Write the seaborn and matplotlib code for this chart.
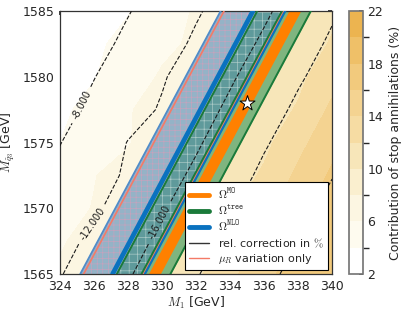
import numpy as np
import pandas as pd
import seaborn as sns
import matplotlib.pyplot as plt
from matplotlib.colors import ListedColormap, BoundaryNorm
from matplotlib.lines import Line2D

# scan grid
m1_grid = [324, 326, 328, 330, 332, 334, 336, 338, 340]
msq_grid = [1565, 1567.5, 1570, 1572.5, 1575, 1577.5, 1580, 1582.5, 1585]

# contribution of stop annihilations in %, rows follow msq_grid
stop_frac = [
    [6.4, 7.8, 9.0, 10.3, 11.6, 13.5, 15.5, 16.9, 18.0],
    [5.7, 7.1, 8.4, 9.6, 10.9, 12.4, 14.5, 16.3, 17.5],
    [5.1, 6.1, 7.8, 9.0, 10.2, 11.6, 13.4, 15.5, 16.9],
    [4.5, 5.9, 7.0, 8.4, 9.6, 10.9, 12.3, 14.4, 16.3],
    [4.0, 5.1, 5.8, 7.7, 8.9, 10.2, 11.5, 13.4, 15.4],
    [3.7, 4.5, 5.8, 7.1, 8.3, 9.5, 10.9, 12.2, 14.4],
    [3.5, 3.9, 5.1, 6.2, 7.7, 8.9, 10.2, 11.5, 13.3],
    [3.2, 3.7, 4.5, 5.6, 6.3, 8.3, 9.5, 10.8, 12.2],
    [3.0, 3.5, 3.9, 5.0, 6.2, 7.7, 8.9, 10.2, 11.5],
]

# relative NLO correction in %, rows follow msq_grid
rel_corr = [
    [-11.8, -13.8, -15.7, -17.7, -19.8, -21.5, -23.2, -24.9, -26.6],
    [-10.8, -12.8, -14.7, -16.7, -18.7, -20.7, -22.3, -24.0, -25.7],
    [-9.9, -11.4, -13.7, -15.7, -17.7, -19.7, -21.5, -23.1, -24.8],
    [-8.9, -10.8, -12.4, -14.7, -16.6, -18.7, -20.6, -22.3, -23.9],
    [-7.9, -9.8, -12.1, -13.7, -15.6, -17.6, -19.7, -21.4, -23.1],
    [-6.9, -8.8, -10.7, -12.3, -14.6, -16.6, -18.6, -20.6, -22.2],
    [-5.9, -7.9, -9.8, -11.7, -13.6, -15.6, -17.6, -19.6, -21.4],
    [-4.8, -6.8, -8.8, -10.4, -12.6, -14.6, -16.5, -18.6, -20.5],
    [-4.3, -5.8, -7.8, -9.7, -11.6, -13.6, -15.5, -17.5, -19.6],
]

stop_levels = [2, 4, 6, 8, 10, 12, 14, 16, 18, 20, 22]
corr_levels_labelled = [-16, -12, -8]
corr_levels_plain = [-24, -20]

# band edges in M1 at the bottom and top of the plot
msq_ends = [1565, 1585]
nlo_lo = [325.2, 333.45]
mur_lo = [325.4, 333.65]
nlo_mid = [327.1, 335.35]
tree_lo = [327.35, 335.6]
tree_mid = [328.8, 337.05]
mur_hi = [328.9, 337.15]
nlo_hi = [329.0, 337.25]
mo_lo = [329.2, 337.45]
mo_hi = [329.9, 338.15]
tree_hi = [330.5, 338.75]

# benchmark point
bench_m1 = [335.0]
bench_msq = [1578.0]

sns.set_theme(style="white")
plt.rcParams["font.family"] = ["DejaVu Sans"]
plt.rcParams["mathtext.fontset"] = "cm"
plt.rcParams["hatch.linewidth"] = 0.5

c_orange = "#ff8000"
c_green = "#1a7a3a"
c_blue = "#0a72bf"
c_red = "#f47a66"

band_colors = ["#ffffff", "#fefbef", "#fcf6e2", "#faefcf", "#f7e6b9",
               "#f6dca3", "#f4d391", "#f2ca7d", "#efc068", "#ecb450"]
cmap = ListedColormap(band_colors)
norm = BoundaryNorm(stop_levels, cmap.N)

fig = plt.figure(figsize=(4.07, 3.16), dpi=100)
ax = fig.add_axes([0.147, 0.133, 0.669, 0.832])

X, Y = np.meshgrid(m1_grid, msq_grid)
cf = ax.contourf(X, Y, np.array(stop_frac), levels=stop_levels, cmap=cmap, norm=norm)

# bands
ax.fill_betweenx(msq_ends, nlo_lo, nlo_hi, facecolor="#94b3c7", edgecolor="#c4a3bd",
                 hatch="+++", linewidth=0, zorder=2)
ax.fill_betweenx(msq_ends, tree_lo, tree_mid, facecolor="#5f9a9b", edgecolor="#a9c9c6",
                 hatch="++", linewidth=0, zorder=2.1)
ax.fill_betweenx(msq_ends, tree_mid, tree_hi, facecolor="#7fb57f", linewidth=0, zorder=2.2)
ax.fill_betweenx(msq_ends, mo_lo, mo_hi, facecolor=c_orange, linewidth=0, zorder=2.3)

edges = pd.DataFrame({
    "m1": nlo_lo + nlo_hi + mur_lo + mur_hi + tree_lo + tree_mid + tree_hi + nlo_mid,
    "msq": msq_ends * 8,
    "line": sum([[k, k] for k in ["nlo_lo", "nlo_hi", "mur_lo", "mur_hi",
                                  "tree_lo", "tree_mid", "tree_hi", "nlo_mid"]], []),
})
styles = {
    "nlo_lo": ("#4f8cc9", 1.3), "nlo_hi": (c_blue, 1.6),
    "mur_lo": (c_red, 1.2), "mur_hi": (c_red, 1.2),
    "tree_lo": (c_green, 1.4), "tree_mid": (c_green, 1.4), "tree_hi": (c_green, 1.4),
    "nlo_mid": (c_blue, 3.4),
}
for name, grp in edges.groupby("line"):
    col, lw = styles[name]
    sns.lineplot(data=grp, x="m1", y="msq", color=col, linewidth=lw, sort=False,
                 estimator=None, ax=ax, zorder=3, legend=False)

Z = np.array(rel_corr)
ax.contour(X, Y, Z, levels=corr_levels_plain, colors="k",
           linestyles="--", linewidths=0.8, zorder=4)
cs = ax.contour(X, Y, Z, levels=corr_levels_labelled, colors="k",
                linestyles="--", linewidths=0.8, zorder=4)
ax.clabel(cs, fmt="%.3f", fontsize=7, inline=True,
          manual=[(329.8, 1569.0), (326.1, 1568.6), (325.35, 1577.8)])

sns.scatterplot(x=bench_m1, y=bench_msq, marker="*", s=130, color="white",
                edgecolor="black", linewidth=0.7, ax=ax, zorder=6)

ax.set_xlim(324, 340)
ax.set_ylim(1565, 1585)
ax.set_xticks(m1_grid)
ax.set_yticks([1565, 1570, 1575, 1580, 1585])
ax.tick_params(direction="in", top=True, right=True, length=3, labelsize=9, pad=4)
ax.set_xlabel(r"$M_1$ [GeV]", fontsize=9, labelpad=2)
ax.set_ylabel(r"$M_{\tilde{q}_3}$ [GeV]", fontsize=9, labelpad=4)
for sp in ax.spines.values():
    sp.set_color("#333333")
    sp.set_linewidth(0.9)

handles = [
    Line2D([], [], color=c_orange, lw=3.5),
    Line2D([], [], color=c_green, lw=3.5),
    Line2D([], [], color=c_blue, lw=3.5),
    Line2D([], [], color="#333333", lw=1.0),
    Line2D([], [], color=c_red, lw=1.0),
]
labels = [r"$\Omega^{\mathtt{MO}}$", r"$\Omega^{\mathtt{tree}}$", r"$\Omega^{\mathtt{NLO}}$",
          r"rel. correction in $\%$", r"$\mu_R$ variation only"]
leg = ax.legend(handles, labels, loc="lower right", fontsize=8, frameon=True,
                fancybox=False, framealpha=1, edgecolor="black", handlelength=1.8,
                handletextpad=0.8, borderaxespad=0.4, labelspacing=0.18,
                borderpad=0.35)
leg.get_frame().set_linewidth(0.8)
leg.set_zorder(10)

cax = fig.add_axes([0.857, 0.133, 0.034, 0.832])
cb = fig.colorbar(cf, cax=cax, ticks=[2, 6, 10, 14, 18, 22])
cb.set_label("Contribution of stop annihilations (%)", fontsize=9)
cb.ax.tick_params(labelsize=9, direction="in", length=3)
cb.outline.set_edgecolor("#777777")

fig.savefig("out.png", dpi=100)
